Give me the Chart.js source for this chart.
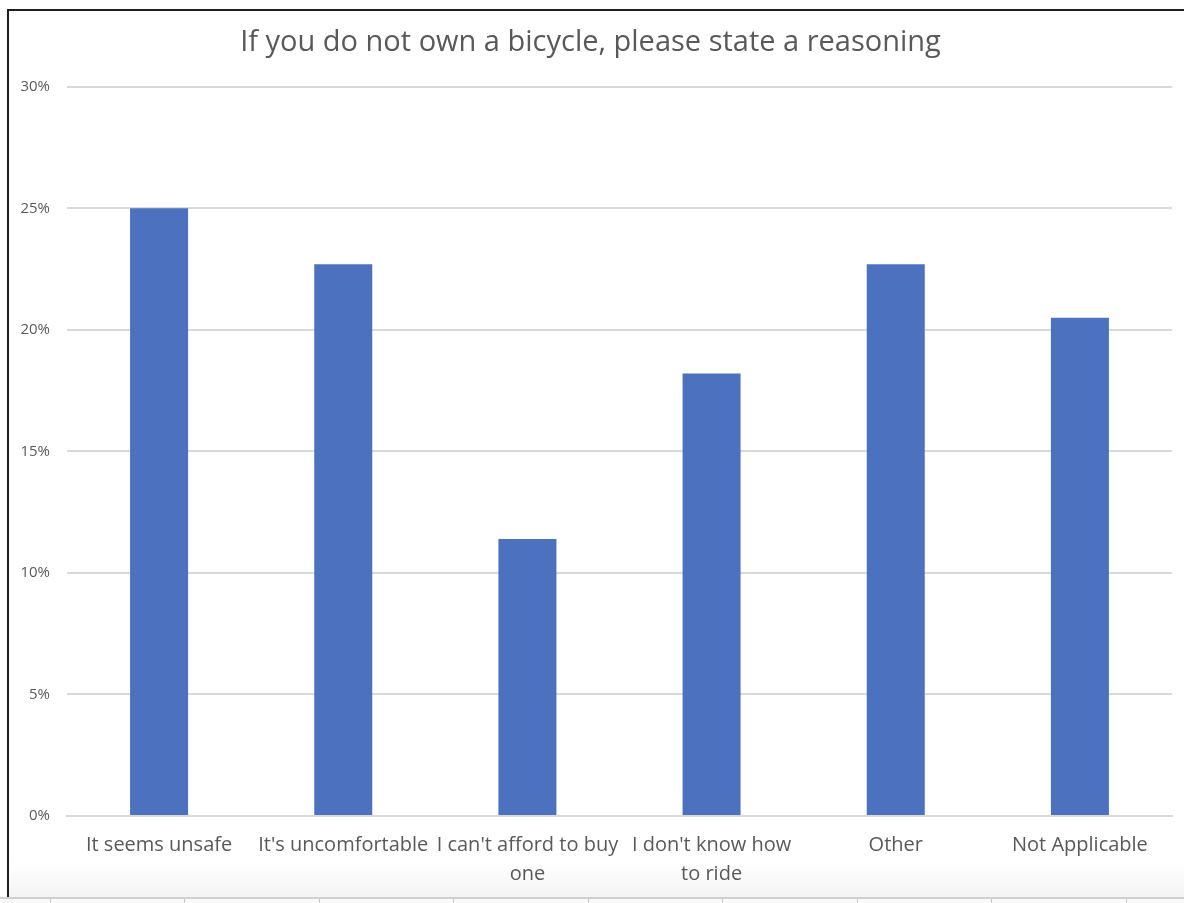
<!DOCTYPE html>
<html>
<head>
<meta charset="utf-8">
<script src="https://cdn.jsdelivr.net/npm/chart.js@4/dist/chart.umd.min.js"></script>
<style>
  html, body { margin: 0; padding: 0; background: #fff; }
  body { width: 1184px; height: 903px; position: relative; overflow: hidden; }
  .frame {
    position: absolute; left: 7px; top: 9px; width: 1177px; height: 890px;
    border-left: 2px solid #1e1e1e; border-top: 2px solid #1e1e1e;
    background: linear-gradient(to bottom, #fff 0, #fff 850px, #f3f3f3 888px);
    box-sizing: border-box;
  }
  .sheet {
    position: absolute; left: 0; top: 897px; width: 1184px; height: 6px;
    border-top: 2px solid #d0d0d0; background: #fafafa;
  }
  .sheet span { position: absolute; top: 0; width: 1px; height: 6px; background: #c8c8c8; }
  #wrap { position: absolute; left: 9px; top: 11px; width: 1175px; height: 885px; }
</style>
</head>
<body>
<div class="frame"></div>
<div class="sheet" id="sheet"></div>
<div id="wrap"><canvas id="reasonChart"></canvas></div>
<script>
const reasons = [
  'It seems unsafe',
  "It's uncomfortable",
  ["I can't afford to buy", 'one'],
  ["I don't know how", 'to ride'],
  'Other',
  'Not Applicable'
];
const shares = [25.0, 22.7, 11.4, 18.2, 22.7, 20.5];
const yTicks = [0, 5, 10, 15, 20, 25, 30];

// separadores das colunas da planilha por baixo do gráfico
const colEdges = [50, 184, 319, 453, 588, 722, 857, 991, 1126];
const sheet = document.getElementById('sheet');
colEdges.forEach(x => {
  const s = document.createElement('span');
  s.style.left = x + 'px';
  sheet.appendChild(s);
});

const ctx = document.getElementById('reasonChart').getContext('2d');

new Chart(ctx, {
  type: 'bar',
  data: {
    labels: reasons,
    datasets: [{
      data: shares,
      backgroundColor: '#4c71bf',
      categoryPercentage: 1,
      barPercentage: 0.315
    }]
  },
  options: {
    responsive: true,
    maintainAspectRatio: false,
    animation: false,
    layout: { padding: { left: 0, right: 12, top: 0, bottom: 0 } },
    plugins: {
      legend: { display: false },
      tooltip: { enabled: false },
      title: {
        display: true,
        text: 'If you do not own a bicycle, please state a reasoning',
        color: '#595959',
        font: { size: 29, family: 'Open Sans', weight: 'normal' },
        padding: { top: 14, bottom: 27 }
      }
    },
    scales: {
      x: {
        grid: { display: false },
        border: { color: '#d9d9d9', width: 2 },
        ticks: {
          color: '#595959',
          font: { size: 20, family: 'Open Sans', lineHeight: 1.45 },
          padding: 7,
          maxRotation: 0,
          autoSkip: false
        }
      },
      y: {
        min: 0,
        max: 30,
        afterFit: scale => { scale.width = 58; },
        afterBuildTicks: scale => {
          scale.ticks = yTicks.map(v => ({ value: v }));
        },
        grid: { color: '#d9d9d9', lineWidth: 2, drawTicks: false },
        border: { display: false },
        ticks: {
          color: '#595959',
          font: { size: 15, family: 'Open Sans' },
          padding: 17,
          callback: v => v + '%'
        }
      }
    }
  }
});
</script>
</body>
</html>
